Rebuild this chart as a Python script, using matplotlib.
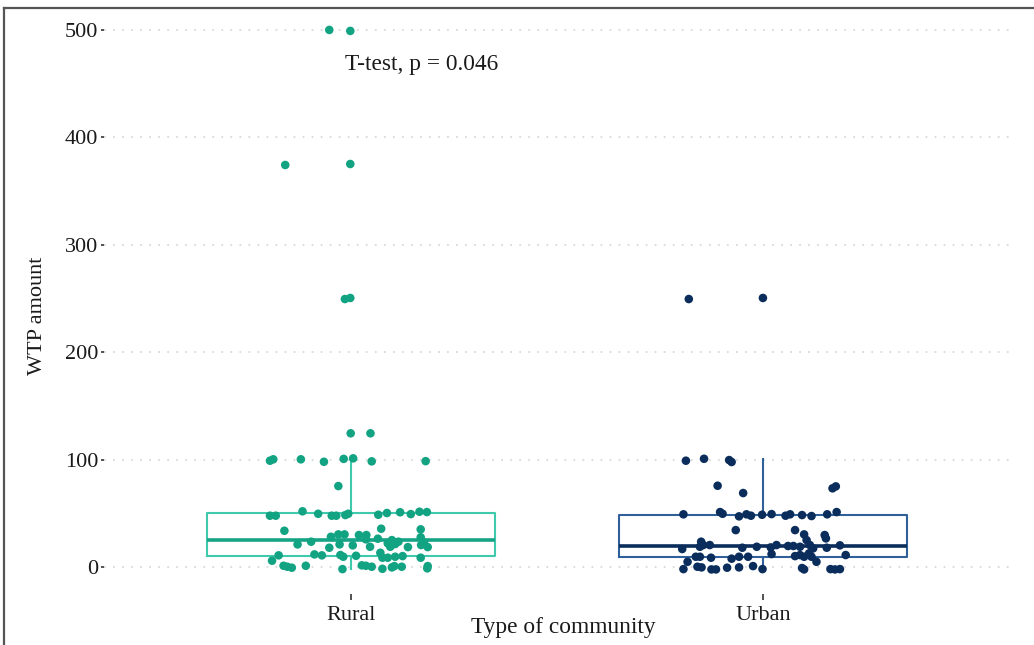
import matplotlib
matplotlib.use("Agg")
import matplotlib.pyplot as plt
from matplotlib.lines import Line2D

plt.rcParams['font.family'] = ['Liberation Serif', 'DejaVu Serif']

categories = ["Rural", "Urban"]
x_title = "Type of community"
y_title = "WTP amount"
test_label = "T-test, p = 0.046"
y_ticks = [0, 100, 200, 300, 400, 500]

# jittered points: horizontal offset from category centre, WTP value
rural_dx = [-0.053, -0.002, -0.160, -0.002, -0.015, -0.002,
            -0.001, 0.047,
            -0.197, -0.189, -0.122, -0.066, -0.018, 0.005, 0.050, 0.181,
            -0.031,
            -0.197, -0.183, -0.118, -0.080, -0.047, -0.036, -0.014, -0.007,
            0.066, 0.087, 0.119, 0.145, 0.166, 0.184,
            -0.162, 0.073, 0.169,
            -0.130, -0.097, -0.049, -0.031, -0.016, -0.053, -0.028, 0.004,
            0.019, 0.037, 0.036, 0.046, 0.065, 0.089, 0.099, 0.095, 0.107,
            0.115, 0.138, 0.169, 0.177, 0.186, 0.170,
            0.071,
            -0.176, -0.192, -0.089, -0.071, -0.026, -0.019, 0.012, 0.076,
            0.089, 0.107, 0.125, 0.169,
            -0.164, -0.155, -0.144, -0.110, -0.021, 0.026, 0.036, 0.050,
            0.076, 0.099, 0.105, 0.123, 0.186, 0.185]
rural_wtp = [500.0, 499.1, 374.3, 375.2, 249.5, 250.5,
             124.5, 124.5,
             99.0, 100.3, 100.3, 98.0, 100.7, 101.2, 98.4, 98.6,
             75.4,
             47.8, 47.8, 51.9, 49.6, 47.8, 47.8, 48.4, 49.6,
             48.7, 50.3, 51.0, 49.3, 51.5, 51.2,
             33.8, 35.7, 35.1,
             21.1, 23.6, 28.2, 30.4, 30.4, 18.0, 21.1, 20.2,
             29.8, 29.8, 25.8, 18.9, 26.4, 22.1, 25.1, 18.9, 21.4,
             23.6, 18.6, 27.7, 23.0, 18.6, 20.5,
             13.3,
             10.9, 5.9, 11.8, 10.9, 11.2, 9.6, 10.5, 8.7,
             8.7, 9.6, 10.2, 8.7,
             1.2, 0.3, -0.6, 1.2, -1.9, 1.6, 1.2, 0.3,
             -1.6, -0.3, 0.9, 0.3, 0.9, -1.2]

urban_dx = [-0.180, 0.000,
            -0.187, -0.143, -0.082, -0.076,
            -0.110, -0.048, 0.169, 0.177,
            -0.193, -0.104, -0.098, -0.058, -0.040, -0.029, -0.002, 0.021,
            0.055, 0.066, 0.095, 0.118, 0.156, 0.179,
            -0.066, 0.078, 0.100, 0.150, 0.153,
            -0.196, -0.150, -0.145, -0.129, -0.153, -0.050, -0.015, 0.019,
            0.033, 0.061, 0.074, 0.090, 0.106, 0.114, 0.122, 0.155, 0.187,
            -0.163, -0.153, -0.126, -0.076, -0.058, -0.036, 0.021, 0.078,
            0.090, 0.100, 0.112, 0.118, 0.130, 0.201, -0.183,
            -0.193, -0.159, -0.149, -0.125, -0.114, -0.087, -0.058, -0.024,
            -0.001, 0.095, 0.100, 0.164, 0.175, 0.187]
urban_wtp = [249.5, 250.5,
             99.0, 100.8, 99.6, 97.8,
             75.7, 68.9, 73.3, 75.1,
             49.1, 51.2, 49.6, 47.2, 49.1, 47.8, 48.7, 49.3,
             47.8, 49.1, 48.4, 47.5, 49.1, 51.2,
             34.4, 34.4, 30.4, 29.8, 26.7,
             16.8, 23.6, 20.5, 20.5, 18.9, 18.0, 18.9, 18.3,
             20.5, 19.6, 19.6, 18.9, 25.1, 20.5, 17.4, 18.0, 20.2,
             9.6, 9.6, 8.7, 7.8, 9.6, 9.6, 12.1, 10.2,
             11.2, 9.6, 12.8, 9.6, 4.9, 11.2, 4.9,
             -1.9, 0.3, -0.3, -2.2, -2.2, -0.6, -0.3, 0.9,
             -1.9, -0.9, -2.2, -1.9, -2.2, -1.9]

point_colors = ["#12a383", "#0a2d5c"]
box_colors = ["#3fc9ad", "#30609a"]
median_colors = ["#17a486", "#0a2d5c"]

fig = plt.figure(figsize=(10.34, 6.45), dpi=100)
ax = fig.add_axes([0.1006, 0.0792, 0.8762, 0.916])

for y in y_ticks:
    ax.axhline(y, color="#d9d9d9", lw=1.3, ls=(0, (1, 4)), zorder=0)

groups = [rural_wtp, urban_wtp]
for i, (vals, bc, mc) in enumerate(zip(groups, box_colors, median_colors)):
    ax.boxplot(vals, positions=[i + 1], widths=0.7, showfliers=False, showcaps=False,
               patch_artist=False,
               boxprops=dict(color=bc, lw=1.5),
               whiskerprops=dict(color=bc, lw=1.5),
               medianprops=dict(color=mc, lw=2.6))

for i, (dx, vals, pc) in enumerate(zip([rural_dx, urban_dx], groups, point_colors)):
    xs = [i + 1 + d for d in dx]
    ax.scatter(xs, vals, s=38, color=pc, edgecolors="none", zorder=3)

ax.text(0.985, 468, test_label, fontsize=16.8, ha="left", va="center", color="#1a1a1a")

ax.set_xlim(0.4, 2.6)
ax.set_ylim(-25, 525)
ax.set_xticks([1, 2])
ax.set_xticklabels(categories)
ax.set_yticks(y_ticks)
for s in ax.spines.values():
    s.set_visible(False)
ax.tick_params(axis="y", length=2, width=1.2, color="#333333", pad=2, labelsize=16,
               labelcolor="#1a1a1a")
ax.tick_params(axis="x", length=4, width=1.2, color="#333333", pad=5, labelsize=16,
               labelcolor="#1a1a1a")

ax.set_xlabel(x_title, fontsize=16.8, color="#1a1a1a")
ax.xaxis.set_label_coords(0.507, -0.039)
ax.set_ylabel(y_title, fontsize=16, color="#1a1a1a")
ax.yaxis.set_label_coords(-0.063, 0.47)

# frame lines at top and left of the original image
fig.add_artist(Line2D([0.004, 1.0], [0.9876, 0.9876], transform=fig.transFigure,
                      color="#555555", lw=1.6))
fig.add_artist(Line2D([0.004, 0.004], [0.0, 0.9876], transform=fig.transFigure,
                      color="#555555", lw=1.6))

fig.savefig("out.png", dpi=100)
